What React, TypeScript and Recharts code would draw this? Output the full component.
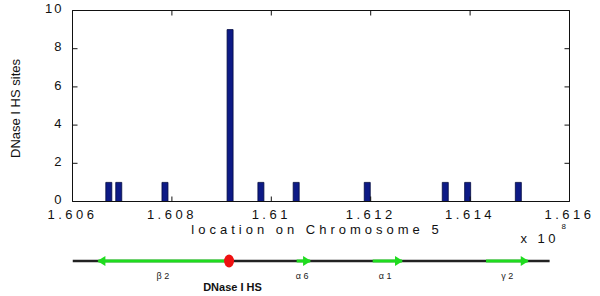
import React from 'react';
import { ComposedChart, Bar, XAxis, YAxis, Line, Scatter } from 'recharts';

// DNase I HS sites along chromosome 5 (x 10^8)
const sitePositions = [1.60673, 1.60693, 1.60786, 1.60917, 1.60979, 1.6105, 1.61193, 1.6135, 1.61395, 1.61497];
const siteCounts = [1, 1, 1, 9, 1, 1, 1, 1, 1, 1];

const xTicks = [1.606, 1.608, 1.61, 1.612, 1.614, 1.616];
const xTickLabels = ['1.606', '1.608', '1.61', '1.612', '1.614', '1.616'];
const yTicks = [0, 2, 4, 6, 8, 10];

// gene map below the chart
const backbone = [1.606, 1.6156];
const geneNames = ['\u03b2 2', '\u03b1 6', '\u03b1 1', '\u03b3 2'];
const geneStarts = [1.60652, 1.61051, 1.61204, 1.61432];
const geneEnds = [1.60915, 1.61078, 1.61263, 1.61516];
const geneReverse = [true, false, false, false];
const geneLabelPos = [1.60782, 1.61062, 1.61229, 1.61475];
const hsPosition = 1.60915;
const hsLabel = 'DNase I HS';
const hsLabelPos = 1.60922;

const FONT = '"Liberation Sans", Arial, Helvetica, sans-serif';
const DOMAIN: [number, number] = [1.606, 1.616];

const siteData = sitePositions.map((x, i) => ({ x, count: siteCounts[i] }));
const geneLabels = geneNames.map((name, i) => ({ x: geneLabelPos[i], y: 0, name }));

function XTitle(props: any) {
  const { x, y, width } = props.viewBox;
  return (
    <g fontFamily={FONT} fill="#111">
      <text x={x + width / 2 - 4} y={y + 32.5} textAnchor="middle" fontSize={13} letterSpacing={4}>
        location on Chromosome 5
      </text>
      <text x={x + width - 49} y={y + 41} fontSize={13} letterSpacing={3.5}>x 10</text>
      <text x={x + width - 8} y={y + 27} fontSize={8}>8</text>
    </g>
  );
}

function YTitle() {
  return (
    <text x={19.5} y={108.5} transform="rotate(-90 19.5 108.5)" textAnchor="middle"
      fontFamily={FONT} fontSize={13} fill="#111">
      DNase I HS sites
    </text>
  );
}

const arrowDot = (reverse: boolean) => (p: any) => {
  const { cx, cy, index } = p;
  const tipIdx = reverse ? 0 : 1;
  if (index !== tipIdx) return <g key={`d${index}`} />;
  const s = reverse ? -1 : 1;
  return (
    <polygon key={`d${index}`} fill="#1fdc1f"
      points={`${cx - s * 7},${cy - 5} ${cx + s},${cy} ${cx - s * 7},${cy + 5}`} />
  );
};

const noShape = () => <g />;
const noTick = () => <g />;

export default function App() {
  const tickStyle = { fontFamily: FONT, fontSize: 13, fill: '#111' };
  return (
    <div style={{ position: 'absolute', left: 0, top: 0, width: 600, height: 296, background: '#fff' }}>
      <div style={{ position: 'absolute', left: 0, top: 0 }}>
        <ComposedChart width={600} height={246} data={siteData}
          margin={{ top: 10.5, right: 30.5, left: 20, bottom: 0 }}>
          <XAxis xAxisId="main" dataKey="x" type="number" domain={DOMAIN} ticks={xTicks}
            allowDataOverflow interval={0} height={44.5} tickLine={false} tickSize={0} tickMargin={8}
            axisLine={{ stroke: '#111' }}
            tick={{ ...tickStyle, letterSpacing: 3.5 }}
            tickFormatter={(v: number, i: number) => xTickLabels[i]}
            label={{ content: (p: any) => <XTitle {...p} /> }} />
          <XAxis xAxisId="bottomIn" dataKey="x" type="number" domain={DOMAIN} ticks={xTicks} allowDataOverflow
            interval={0} mirror orientation="bottom" tick={noTick} tickSize={5} axisLine={false}
            tickLine={{ stroke: '#111' }} />
          <XAxis xAxisId="top" dataKey="x" type="number" domain={DOMAIN} ticks={xTicks} allowDataOverflow
            interval={0} mirror orientation="top" tick={noTick} tickSize={5}
            axisLine={{ stroke: '#111' }} tickLine={{ stroke: '#111' }} />
          <YAxis yAxisId="main" type="number" domain={[0, 10]} ticks={yTicks} allowDataOverflow
            interval={0} width={52.5} tickLine={false} tickSize={0} tickMargin={9}
            axisLine={{ stroke: '#111' }}
            tick={{ ...tickStyle, letterSpacing: 2, dy: -2 }}
            label={{ content: () => <YTitle /> }} />
          <YAxis yAxisId="leftIn" type="number" domain={[0, 10]} ticks={yTicks} allowDataOverflow
            interval={0} mirror orientation="left" tick={noTick} tickSize={5} axisLine={false}
            tickLine={{ stroke: '#111' }} />
          <YAxis yAxisId="right" type="number" domain={[0, 10]} ticks={yTicks} allowDataOverflow
            interval={0} mirror orientation="right" tick={noTick} tickSize={5}
            axisLine={{ stroke: '#111' }} tickLine={{ stroke: '#111' }} />
          <Bar xAxisId="main" yAxisId="main" dataKey="count" barSize={6}
            fill="#0d1a86" stroke="#020a40" strokeWidth={0.8} isAnimationActive={false} />
          <Scatter xAxisId="top" yAxisId="right" dataKey="count" shape={noShape}
            legendType="none" isAnimationActive={false} />
          <Scatter xAxisId="bottomIn" yAxisId="leftIn" dataKey="count" shape={noShape}
            legendType="none" isAnimationActive={false} />
        </ComposedChart>
      </div>
      <div style={{ position: 'absolute', left: 0, top: 241 }}>
        <ComposedChart width={600} height={55} margin={{ top: 0, right: 30.5, left: 72.5, bottom: 15 }}>
          <XAxis dataKey="x" type="number" domain={DOMAIN} hide allowDataOverflow />
          <YAxis dataKey="y" type="number" domain={[-1, 1]} hide />
          <Line data={backbone.map((x) => ({ x, y: 0 }))} dataKey="y" stroke="#222" strokeWidth={2.5}
            dot={false} activeDot={false} isAnimationActive={false} />
          {geneStarts.map((s, i) => (
            <Line key={geneNames[i]} data={[{ x: s, y: 0 }, { x: geneEnds[i], y: 0 }]} dataKey="y"
              stroke="#1fdc1f" strokeWidth={3} dot={arrowDot(geneReverse[i])} activeDot={false}
              isAnimationActive={false} />
          ))}
          <Scatter data={[{ x: hsPosition, y: 0 }]} dataKey="y" isAnimationActive={false}
            shape={(p: any) => <ellipse cx={p.cx} cy={p.cy} rx={5} ry={6.5} fill="#ee1111" />} />
          <Scatter data={geneLabels} dataKey="y" isAnimationActive={false}
            shape={(p: any) => (
              <text x={p.cx} y={p.cy + 18} textAnchor="middle" fontFamily={FONT} fontSize={9} fill="#222">
                {p.payload.name}
              </text>
            )} />
          <Scatter data={[{ x: hsLabelPos, y: 0, name: hsLabel }]} dataKey="y" isAnimationActive={false}
            shape={(p: any) => (
              <text x={p.cx} y={p.cy + 30} textAnchor="middle" fontFamily={FONT} fontSize={11}
                fontWeight="bold" fill="#111">
                {p.payload.name}
              </text>
            )} />
        </ComposedChart>
      </div>
    </div>
  );
}
